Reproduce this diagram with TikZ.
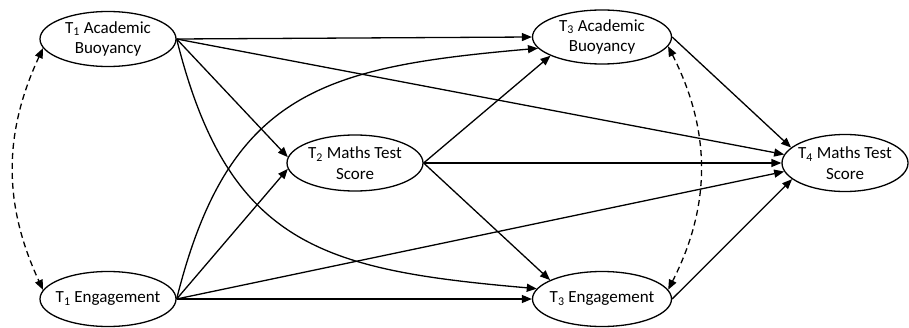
\documentclass[tikz,border=0pt]{standalone}
\usepackage{fontspec}
\setmainfont{Carlito}
\usetikzlibrary{shapes.geometric,arrows.meta}
\tikzset{
  ell/.style={draw, ellipse, line width=1.3pt, inner sep=0pt, minimum width=136pt, minimum height=55pt},
  lbl/.style={align=center, inner sep=0pt, font=\fontsize{17}{20.5}\selectfont},
  arr/.style={line width=1.3pt, -{Triangle[length=10pt,width=8pt]}},
  cov/.style={line width=1.3pt, dash pattern=on 6pt off 4pt, {Triangle[length=10pt,width=8pt]}-{Triangle[length=10pt,width=8pt]}}
}
\begin{document}
\begin{tikzpicture}[x=1pt,y=1pt]
\useasboundingbox (0,0) rectangle (909,327);
\node[ell] (a1) at (108,288) {};
\node[ell] (e1) at (108,28) {};
\node[ell, minimum height=56pt] (m2) at (355,164) {};
\node[ell, minimum width=139pt, minimum height=54pt] (a3) at (602,290) {};
\node[ell, minimum width=139pt] (e3) at (602,28) {};
\node[ell, minimum width=126pt, minimum height=57pt] (m4) at (845,164) {};
\node[lbl] (a1t) at (a1) {T\textsubscript{1} Academic\\Buoyancy};
\node[lbl] (e1t) at (e1) {T\textsubscript{1} Engagement};
\node[lbl] (m2t) at (m2) {T\textsubscript{2} Maths Test\\Score};
\node[lbl] (a3t) at (a3) {T\textsubscript{3} Academic\\Buoyancy};
\node[lbl] (e3t) at (e3) {T\textsubscript{3} Engagement};
\node[lbl] (m4t) at (m4) {T\textsubscript{4} Maths Test\\Score};
% T1 buoyancy paths
\draw[arr] (a1.east) -- (a3.west);
\draw[arr] (a1.east) -- (m4.172);
\draw[arr] (a1.east) -- (m2.175);
\draw[arr] (a1.east) to[out=-76, in=175, looseness=1.25] (e3.171);
% T1 engagement paths
\draw[arr] (e1.east) -- (e3.west);
\draw[arr] (e1.east) -- (m4.188);
\draw[arr] (e1.east) -- (m2.185);
\draw[arr] (e1.east) to[out=76, in=185, looseness=1.25] (a3.190);
% T2 paths
\draw[arr] (m2.east) -- (a3.200);
\draw[arr] (m2.east) -- (m4.west);
\draw[arr] (m2.east) -- (e3.160);
% T3 paths
\draw[arr] (a3.east) -- (m4.164);
\draw[arr] (e3.east) -- (m4.197);
% covariances
\draw[cov] (a1.188) to[out=245, in=115] (e1.172);
\draw[cov] (a3.-8) to[out=-63, in=63] (e3.8);
\end{tikzpicture}
\end{document}
